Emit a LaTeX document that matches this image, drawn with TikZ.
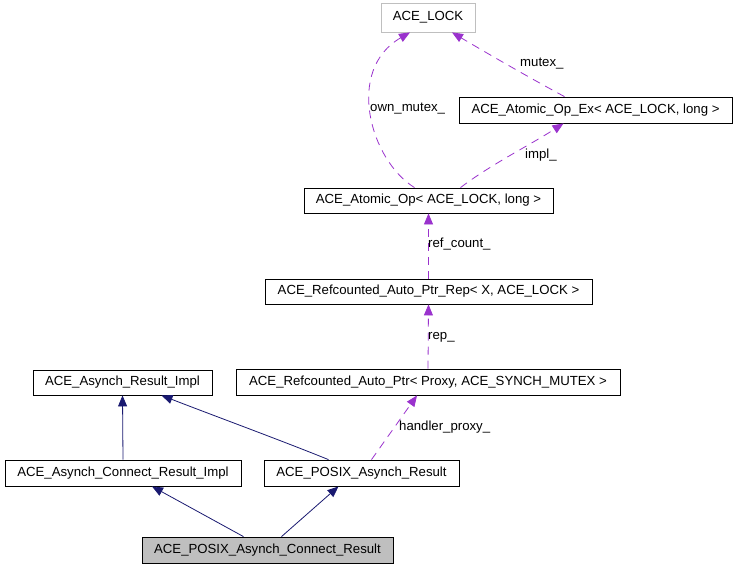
\documentclass[tikz,border=0pt]{standalone}
\usepackage{fontspec}
\setmainfont{Liberation Sans}
\usetikzlibrary{arrows.meta}
\definecolor{usecol}{HTML}{9A32CD}
\definecolor{inhcol}{HTML}{191970}
\definecolor{boxgray}{HTML}{BFBFBF}
\tikzset{
    cls/.style={draw=black, line width=0.8pt, inner sep=0pt, minimum height=26pt, font=\fontsize{13.2}{15}\selectfont},
    uses/.style={draw=usecol, line width=0.8pt, dash pattern=on 8pt off 6pt, -{Triangle[length=11pt,width=9pt]}},
    inherit/.style={draw=inhcol, line width=0.8pt, -{Triangle[length=11pt,width=9pt]}},
    lbl/.style={anchor=west, inner sep=0pt, font=\fontsize{13.2}{15}\selectfont}
}
\begin{document}
\begin{tikzpicture}[x=1pt,y=-1pt]
    \useasboundingbox (0,0) rectangle (736,568);

    % Draw the classes
    \node[cls, draw=boxgray, minimum width=94pt, minimum height=29pt] (lock) at (428,17.5) {ACE\_LOCK};
    \node[cls, minimum width=273pt] (opex) at (595.5,110) {ACE\_Atomic\_Op\_Ex< ACE\_LOCK, long >};
    \node[cls, minimum width=249pt, minimum height=25pt] (op) at (428.5,200.5) {ACE\_Atomic\_Op< ACE\_LOCK, long >};
    \node[cls, minimum width=327pt, minimum height=25pt] (rep) at (428.5,291.5) {ACE\_Refcounted\_Auto\_Ptr\_Rep< X, ACE\_LOCK >};
    \node[cls, minimum width=384pt] (ptr) at (428,382) {ACE\_Refcounted\_Auto\_Ptr< Proxy, ACE\_SYNCH\_MUTEX >};
    \node[cls, minimum width=179pt, minimum height=25pt] (resimpl) at (122.5,382.5) {ACE\_Asynch\_Result\_Impl};
    \node[cls, minimum width=236pt] (connimpl) at (123,473) {ACE\_Asynch\_Connect\_Result\_Impl};
    \node[cls, minimum width=195pt] (posixres) at (361.5,473) {ACE\_POSIX\_Asynch\_Result};
    \node[cls, fill=boxgray, minimum width=251pt] (posixconn) at (267.5,550) {ACE\_POSIX\_Asynch\_Connect\_Result};

    % Usage edges (dashed)
    \draw[uses] ([xshift=-14pt]op.north) .. controls (370,160) and (345,70) .. ([xshift=-18pt]lock.south);
    \draw[uses] ([xshift=-31pt]opex.north) .. controls (530,78) and (490,55) .. ([xshift=24pt]lock.south);
    \draw[uses] ([xshift=32pt]op.north) .. controls (490,165) and (530,145) .. ([xshift=-32pt]opex.south);
    \draw[uses] (rep.north) -- (op.south);
    \draw[uses] (ptr.north) -- (rep.south);
    \draw[uses] ([xshift=10pt]posixres.north) -- ([xshift=-11pt]ptr.south);

    % Edge labels
    \node[lbl] (lownmutex) at (370,109) {own\_mutex\_};
    \node[lbl] (lmutex) at (520,64) {mutex\_};
    \node[lbl] (limpl) at (525,155) {impl\_};
    \node[lbl] (lrefcount) at (428,244) {ref\_count\_};
    \node[lbl] (lrep) at (428,337) {rep\_};
    \node[lbl] (lhandler) at (399,427) {handler\_proxy\_};

    % Inheritance edges
    \draw[inherit] (connimpl.north) -- (resimpl.south);
    \draw[inherit] ([xshift=-33pt]posixres.north) .. controls (280,440) and (220,418) .. ([xshift=39pt]resimpl.south);
    \draw[inherit] ([xshift=-24pt]posixconn.north) -- ([xshift=29pt]connimpl.south);
    \draw[inherit] ([xshift=14pt]posixconn.north) -- ([xshift=-23pt]posixres.south);
\end{tikzpicture}
\end{document}
